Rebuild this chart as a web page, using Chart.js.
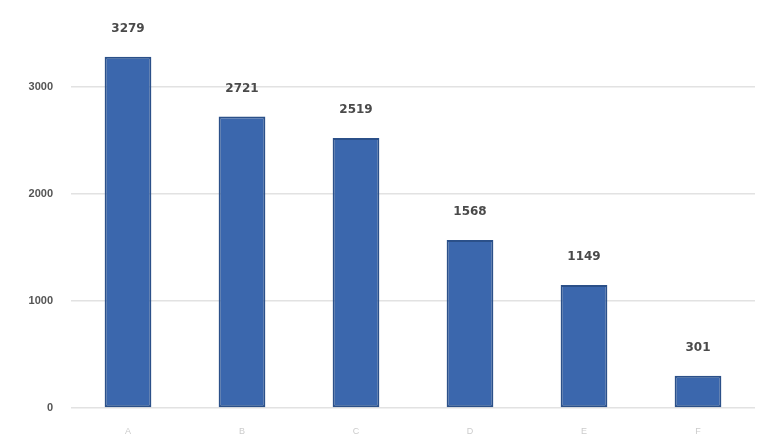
<!DOCTYPE html>
<html>
<head>
<meta charset="utf-8">
<script src="https://cdn.jsdelivr.net/npm/chart.js@4/dist/chart.umd.min.js"></script>
<style>
  html, body { margin: 0; padding: 0; background: #fff; }
  #wrap { width: 780px; height: 440px; }
</style>
</head>
<body>
<div id="wrap"><canvas id="c" width="780" height="440"></canvas></div>
<script>
// ─── Datos ──────────────────────────────────────────────
const categorias = ['A', 'B', 'C', 'D', 'E', 'F'];
const valores    = [3279, 2721, 2519, 1568, 1149, 301];
const ticksY     = [0, 1000, 2000, 3000];

// Etiquetas de valor encima de cada barra
const etiquetasBarras = {
    id: 'etiquetasBarras',
    afterDatasetsDraw(chart) {
        const ctx  = chart.ctx;
        const meta = chart.getDatasetMeta(0);
        ctx.save();
        ctx.font = 'bold 12px "DejaVu Sans", sans-serif';
        ctx.fillStyle = '#4a4a4a';
        ctx.textAlign = 'center';
        ctx.textBaseline = 'middle';
        meta.data.forEach((bar, i) => {
            ctx.fillText(String(valores[i]), bar.x, bar.y - 28);
        });
        ctx.restore();
    }
};

new Chart(document.getElementById('c'), {
    type: 'bar',
    data: {
        labels: categorias,
        datasets: [{
            data: valores,
            backgroundColor: '#3b67ad',
            borderColor: '#2b5089',
            borderWidth: 2,
            borderSkipped: false,
            categoryPercentage: 1,
            barPercentage: 0.41
        }]
    },
    options: {
        responsive: false,
        animation: false,
        layout: { padding: { top: 33, right: 25, left: 0, bottom: 0 } },
        plugins: {
            legend: { display: false },
            tooltip: { enabled: false }
        },
        scales: {
            x: {
                grid: { display: false },
                border: { display: false },
                ticks: { color: '#ccc', font: { size: 9 }, padding: 10 },
                afterFit: (s) => { s.height = 32; }
            },
            y: {
                min: 0,
                max: 3500,
                border: { display: false },
                grid: { color: '#e2e2e2', lineWidth: 1.5, drawTicks: false },
                ticks: {
                    color: '#555',
                    font: { size: 11, weight: 'bold' },
                    padding: 18,
                    callback: (v) => String(v)
                },
                afterBuildTicks: (s) => { s.ticks = ticksY.map(v => ({ value: v })); },
                afterFit: (s) => { s.width = 71; }
            }
        }
    },
    plugins: [etiquetasBarras]
});
</script>
</body>
</html>
